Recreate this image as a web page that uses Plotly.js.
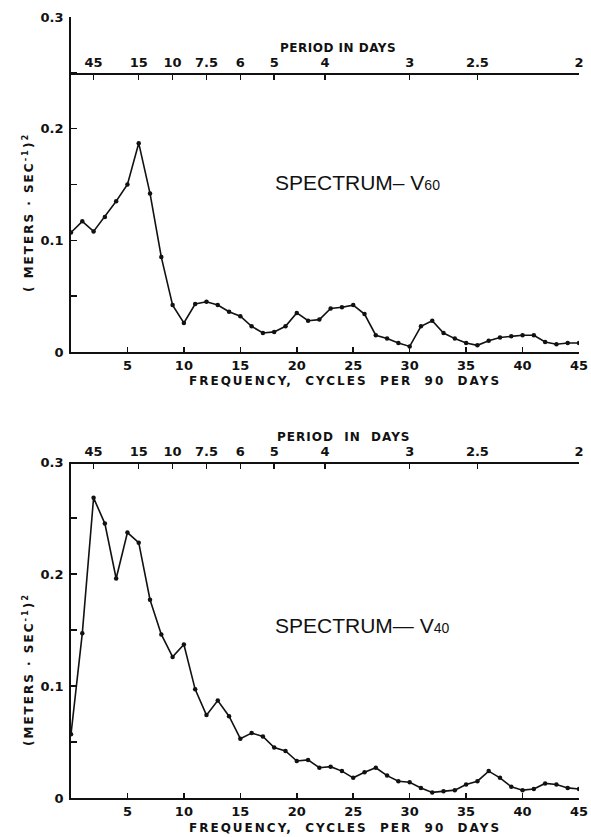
<!DOCTYPE html>
<html>
<head>
<meta charset="utf-8">
<script src="https://cdn.plot.ly/plotly-3.0.1.min.js"></script>
<style>
html,body{margin:0;padding:0;background:#fff;}
#chart{width:591px;height:837px;}
</style>
</head>
<body>
<div id="chart"></div>
<script>
// Frequency (cycles per 90 days)
const freq = [0,1,2,3,4,5,6,7,8,9,10,11,12,13,14,15,16,17,18,19,20,21,22,23,24,25,26,27,28,29,30,31,32,33,34,35,36,37,38,39,40,41,42,43,44,45];
// Spectrum V60
const v60 = [0.107,0.117,0.108,0.121,0.135,0.150,0.187,0.142,0.085,0.042,
             0.026,0.043,0.045,0.042,0.036,0.032,0.023,0.017,0.018,0.023,
             0.035,0.028,0.029,0.039,0.040,0.042,0.034,0.015,0.012,0.008,
             0.005,0.023,0.028,0.017,0.012,0.008,0.006,0.010,0.013,0.014,
             0.015,0.015,0.009,0.007,0.008,0.008];
// Spectrum V40
const v40 = [0.057,0.147,0.268,0.245,0.196,0.237,0.228,0.177,0.146,0.126,
             0.137,0.097,0.074,0.087,0.073,0.053,0.058,0.055,0.045,0.042,
             0.033,0.034,0.027,0.028,0.024,0.018,0.023,0.027,0.020,0.015,
             0.014,0.009,0.005,0.006,0.007,0.012,0.015,0.024,0.018,0.010,
             0.007,0.008,0.013,0.012,0.009,0.008];
// Frequency tick labels
const freqTicks = [5,10,15,20,25,30,35,40,45];
// Period axis (days) -> frequency = 90 / period
const periodLabels = ['45','15','10','7.5','6','5','4','3','2.5','2'];
const periodDays = [45,15,10,7.5,6,5,4,3,2.5,2];
const periodFreq = periodDays.map(p => 90 / p);
// Y ticks
const yTicks = [0,0.1,0.2,0.3];
const yTickText = ['0','0.1','0.2','0.3'];

const W = 591, H = 837;
const px = v => v / W;
const py = v => 1 - v / H;

const tickFont = {family: 'DejaVu Sans', size: 13, color: '#111', weight: 'bold'};
const titleFont = {family: 'DejaVu Sans', size: 12, color: '#111', weight: 'bold'};

const xDom = [px(71), px(579)];

function xAx(anchor) {
  return {domain: xDom, range: [0,45], autorange: false, anchor: anchor,
    tickmode: 'array', tickvals: freqTicks, ticktext: freqTicks.map(String),
    ticks: 'inside', ticklen: 5, tickwidth: 1.5, tickcolor: '#111',
    showline: true, linewidth: 1.8, linecolor: '#111', showgrid: false, zeroline: false,
    tickfont: tickFont, ticklabelstandoff: 1};
}
function yAx(dom, anchor) {
  return {domain: dom, range: [0,0.3], autorange: false, anchor: anchor,
    tickmode: 'array', tickvals: yTicks, ticktext: yTickText,
    ticks: 'inside', ticklen: 6, tickwidth: 1.5, tickcolor: '#111',
    minor: {dtick: 0.05, tick0: 0, ticks: 'inside', ticklen: 6, tickwidth: 1.5, tickcolor: '#111', showgrid: false},
    showline: true, linewidth: 1.8, linecolor: '#111', showgrid: false, zeroline: false,
    tickfont: tickFont, ticklabelstandoff: 3};
}
function pAx(over, pos) {
  return {overlaying: over, anchor: 'free', position: pos, side: 'top',
    domain: xDom, range: [0,45], autorange: false,
    tickmode: 'array', tickvals: periodFreq, ticktext: periodLabels,
    ticks: 'inside', ticklen: 5, tickwidth: 1.5, tickcolor: '#111',
    showline: true, linewidth: 1.5, linecolor: '#111', showgrid: false, zeroline: false,
    tickfont: tickFont, ticklabelstandoff: 1};
}

const lineStyle = {color: '#111', width: 1.6};
const markerStyle = {color: '#111', size: 4.5};

const traces = [
  {x: freq, y: v60, xaxis: 'x', yaxis: 'y', mode: 'lines+markers', line: lineStyle, marker: markerStyle, hoverinfo: 'skip'},
  {x: freq, y: v40, xaxis: 'x2', yaxis: 'y2', mode: 'lines+markers', line: lineStyle, marker: markerStyle, hoverinfo: 'skip'},
  {x: periodFreq, y: periodFreq.map(() => 0.25), xaxis: 'x3', yaxis: 'y', mode: 'none', hoverinfo: 'skip'},
  {x: periodFreq, y: periodFreq.map(() => 0.3), xaxis: 'x4', yaxis: 'y2', mode: 'none', hoverinfo: 'skip'}
];

const ls = 'letter-spacing:2px';
const annotations = [
  {text: '<span style="letter-spacing:0.5px">PERIOD IN DAYS</span>', xref: 'paper', yref: 'paper', x: px(338), y: py(48), showarrow: false, font: titleFont, xanchor: 'center', yanchor: 'middle'},
  {text: '<span style="letter-spacing:1px">PERIOD  IN  DAYS</span>', xref: 'paper', yref: 'paper', x: px(344), y: py(437), showarrow: false, font: titleFont, xanchor: 'center', yanchor: 'middle'},
  {text: '<span style="' + ls + '">FREQUENCY,  CYCLES  PER  90  DAYS</span>', xref: 'paper', yref: 'paper', x: px(345), y: py(381), showarrow: false, font: titleFont, xanchor: 'center', yanchor: 'middle'},
  {text: '<span style="' + ls + '">FREQUENCY,  CYCLES  PER  90  DAYS</span>', xref: 'paper', yref: 'paper', x: px(345), y: py(828), showarrow: false, font: titleFont, xanchor: 'center', yanchor: 'middle'},
  {text: '<span style="' + ls + '">( METERS · SEC<sup>-1</sup>)<sup>2</sup></span>', xref: 'paper', yref: 'paper', x: px(28), y: py(213), showarrow: false, font: titleFont, textangle: -90, xanchor: 'center', yanchor: 'middle'},
  {text: '<span style="' + ls + '">(METERS · SEC<sup>-1</sup>)<sup>2</sup></span>', xref: 'paper', yref: 'paper', x: px(28), y: py(670), showarrow: false, font: titleFont, textangle: -90, xanchor: 'center', yanchor: 'middle'},
  {text: 'SPECTRUM– V<span style="font-size:14px">60</span>', xref: 'paper', yref: 'paper', x: px(273), y: py(182), showarrow: false, font: {family: 'Liberation Sans', size: 21, color: '#111'}, xanchor: 'left', yanchor: 'middle'},
  {text: 'SPECTRUM— V<span style="font-size:14px">40</span>', xref: 'paper', yref: 'paper', x: px(273), y: py(625), showarrow: false, font: {family: 'Liberation Sans', size: 21, color: '#111'}, xanchor: 'left', yanchor: 'middle'}
];

const layout = {
  width: W, height: H,
  margin: {l: 0, r: 0, t: 0, b: 0},
  paper_bgcolor: '#fff', plot_bgcolor: 'rgba(0,0,0,0)',
  showlegend: false,
  xaxis: xAx('y'),
  yaxis: yAx([py(352), py(17)], 'x'),
  xaxis2: xAx('y2'),
  yaxis2: yAx([py(798), py(462)], 'x2'),
  xaxis3: pAx('x', py(73)),
  xaxis4: pAx('x2', py(462)),
  annotations: annotations
};

Plotly.newPlot('chart', traces, layout, {staticPlot: true, displayModeBar: false});
</script>
</body>
</html>
